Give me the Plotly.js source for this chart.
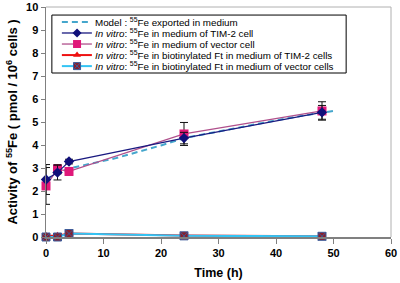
<!DOCTYPE html>
<html><head><meta charset="utf-8">
<script src="https://cdn.plot.ly/plotly-3.0.1.min.js"></script>
<style>html,body{margin:0;padding:0;background:#fff}#c{width:400px;height:283px}</style>
</head><body><div id="c"></div>
<script>
// ---- data ----
var modelTime = [0, 2, 4, 6, 8, 12, 16, 20, 24, 28, 32, 36, 40, 44, 48, 50];
var modelFe   = [2.5, 2.78, 2.98, 3.1, 3.2, 3.42, 3.7, 3.98, 4.3, 4.5, 4.7, 4.9, 5.07, 5.25, 5.42, 5.48];

var sampleTime = [0, 2, 4, 24, 48];
var tim2Fe     = [2.5, 2.8, 3.28, 4.3, 5.42];
var tim2Err    = [0.65, 0.32, 0.1, 0.25, 0.3];
var vectorFe   = [2.22, 2.95, 2.85, 4.48, 5.48];
var vectorErr  = [0.8, 0.2, 0.15, 0.5, 0.4];
var biotTim2Fe   = [0.05, 0.05, 0.15, 0.06, 0.03];
var biotVectorFe = [0.0, 0.0, 0.15, 0.05, 0.03];

var legendLabels = [
  'Model : <sup>55</sup>Fe exported in medium',
  '<i>In vitro</i>: <sup>55</sup>Fe in medium of TIM-2 cell',
  '<i>In vitro</i>: <sup>55</sup>Fe in medium of vector cell',
  '<i>In vitro</i>: <sup>55</sup>Fe in biotinylated Ft in medium of TIM-2 cells',
  '<i>In vitro</i>: <sup>55</sup>Fe in biotinylated Ft in medium of vector cells'
];
var xTicks = [0, 10, 20, 30, 40, 50, 60];
var yTicks = [0, 1, 2, 3, 4, 5, 6, 7, 8, 9, 10];

// ---- styles ----
var styles = [
  {line:{color:'#45A6CC', width:2, dash:'6px,4px'}, mode:'lines'},
  {line:{color:'#1A1A80', width:1.3}, marker:{symbol:'diamond', size:8, color:'#10107A'}, mode:'lines+markers'},
  {line:{color:'#B0508C', width:1.3}, marker:{symbol:'square', size:9, color:'#E0187A'}, mode:'lines+markers'},
  {line:{color:'#EE1111', width:2}, marker:{symbol:'triangle-up', size:8, color:'#EE1111'}, mode:'lines+markers'},
  {line:{color:'#33C4F4', width:2}, marker:{symbol:'square-x', size:8, color:'#8A1E2A', line:{color:'#3A5A9A', width:1}}, mode:'lines+markers'}
];
var eb = function(arr){return {type:'data', array:arr, visible:true, color:'#111', thickness:1, width:4};};

var traces = [
  Object.assign({x:modelTime, y:modelFe, type:'scatter', cliponaxis:false}, styles[0]),
  Object.assign({x:sampleTime, y:vectorFe, error_y:eb(vectorErr), type:'scatter', cliponaxis:false}, styles[2]),
  Object.assign({x:sampleTime, y:tim2Fe, error_y:eb(tim2Err), type:'scatter', cliponaxis:false}, styles[1]),
  Object.assign({x:sampleTime, y:biotTim2Fe, type:'scatter', cliponaxis:false}, styles[3]),
  Object.assign({x:sampleTime, y:biotVectorFe, type:'scatter', cliponaxis:false}, styles[4])
];

// ---- custom legend (overlay axes in 0..1) ----
var rowY = [0.935, 0.887, 0.839, 0.791, 0.743];
var annotations = [];
for (var i = 0; i < 5; i++) {
  var s = styles[i];
  var t = {x:[0.046, 0.090, 0.133], y:[rowY[i], rowY[i], rowY[i]], xaxis:'x2', yaxis:'y2',
           type:'scatter', mode:'lines', line:s.line, cliponaxis:false, hoverinfo:'skip'};
  traces.push(t);
  if (s.marker) {
    traces.push({x:[0.090], y:[rowY[i]], xaxis:'x2', yaxis:'y2', type:'scatter', mode:'markers',
                 marker:Object.assign({}, s.marker, {size:s.marker.size - 1}), cliponaxis:false, hoverinfo:'skip'});
  }
  annotations.push({xref:'paper', yref:'paper', x:0.136, y:rowY[i], xanchor:'left', yanchor:'middle',
    text:legendLabels[i], showarrow:false, font:{family:'Liberation Sans, Arial', size:9.8, color:'#000'}});
}

var tickFont = {family:'Liberation Sans, Arial', size:11, color:'#000', weight:'bold'};
var layout = {
  width:400, height:283,
  margin:{l:46, r:9, t:7, b:46},
  paper_bgcolor:'#fff', plot_bgcolor:'#fff',
  showlegend:false,
  xaxis:{range:[0,60], tickvals:xTicks, ticks:'outside', ticklen:5, tickcolor:'#808080', tickwidth:1,
         showline:true, linecolor:'#808080', linewidth:1.5, showgrid:false, zeroline:false,
         tickfont:tickFont, title:{text:'Time (h)', font:{family:'Liberation Sans, Arial', size:12.5, color:'#000', weight:'bold'}, standoff:10}},
  yaxis:{range:[0,10], tickvals:yTicks, ticks:'outside', ticklen:4, tickcolor:'#808080', tickwidth:1,
         showline:true, linecolor:'#808080', linewidth:1.5, showgrid:false, zeroline:false,
         tickfont:tickFont, title:{text:'Activity of <sup>55</sup>Fe ( pmol / 10<sup>6</sup> cells )', font:{family:'Liberation Sans, Arial', size:13, color:'#000', weight:'bold'}, standoff:5}},
  xaxis2:{range:[0,1], overlaying:'x', visible:false, fixedrange:true},
  yaxis2:{range:[0,1], overlaying:'y', visible:false, fixedrange:true},
  shapes:[
    {type:'line', xref:'paper', yref:'paper', x0:0, x1:1, y0:1, y1:1, line:{color:'#B0B0B0', width:1}},
    {type:'line', xref:'paper', yref:'paper', x0:1, x1:1, y0:0, y1:1, line:{color:'#B0B0B0', width:1}},
    {type:'rect', xref:'paper', yref:'paper', x0:0.017, x1:0.870, y0:0.713, y1:0.965, line:{color:'#000', width:1}, fillcolor:'rgba(255,255,255,0)'}
  ],
  annotations:annotations
};
Plotly.newPlot('c', traces, layout, {staticPlot:true});
</script></body></html>
